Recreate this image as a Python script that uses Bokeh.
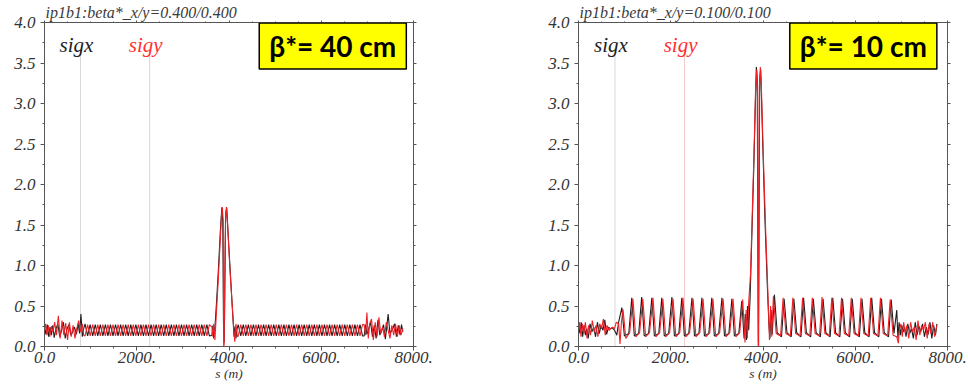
from bokeh.plotting import figure
from bokeh.layouts import row
from bokeh.models import Label, LinearAxis, SingleIntervalTicker, Range1d, PrintfTickFormatter
from bokeh.embed import file_html
from bokeh.resources import INLINE

# ---------------- data ----------------
TITLES = ["ip1b1:beta*_x/y=0.400/0.400", "ip1b1:beta*_x/y=0.100/0.100"]
BETA_TEXT = ["β*= 40 cm", "β*= 10 cm"]
SERIES = ["sigx", "sigy"]
X_TICKS = [0, 2000, 4000, 6000, 8000]
X_TICK_LABELS = ["0.0", "2000.", "4000.", "6000.", "8000."]
X_LABEL = "s (m)"
MARKER_S = [[780, 2280], [790, 2300]]
MARKER_TOP = 3.6
LEGEND_Y = 3.72
BOX_S = [6250, 6175]
BOX_Y = 3.71

# ---- panel 1 : beta* = 40 cm ----
P1_BLACK_IR_L = [(0, 0.25), (30, 0.15), (60, 0.27), (90, 0.12), (120, 0.24), (150, 0.14), (180, 0.26),
                 (210, 0.11), (250, 0.22), (290, 0.28), (330, 0.12), (370, 0.20), (410, 0.30), (450, 0.10),
                 (490, 0.22), (530, 0.27), (570, 0.14), (610, 0.18), (650, 0.24), (690, 0.15), (730, 0.28),
                 (760, 0.16), (790, 0.40), (820, 0.12), (850, 0.22)]
P1_RED_IR_L = [(0, 0.22), (25, 0.28), (55, 0.14), (85, 0.26), (115, 0.12), (150, 0.25), (185, 0.18),
               (220, 0.30), (260, 0.14), (300, 0.38), (340, 0.10), (380, 0.32), (420, 0.14), (460, 0.29),
               (500, 0.08), (540, 0.30), (580, 0.12), (620, 0.26), (660, 0.10), (700, 0.22), (740, 0.32),
               (780, 0.18), (820, 0.28), (850, 0.14)]
P1_ARC1_S = [880, 935, 990, 1045, 1100, 1155, 1210, 1265, 1320, 1375,
             1430, 1485, 1540, 1595, 1650, 1705, 1760, 1815, 1870, 1925,
             1980, 2035, 2090, 2145, 2200, 2255, 2310, 2365, 2420, 2475,
             2530, 2585, 2640, 2695, 2750, 2805, 2860, 2915, 2970, 3025,
             3080, 3135, 3190, 3245, 3300, 3355, 3410, 3465, 3520, 3575]
P1_ARC1_BLACK = [0.28, 0.13, 0.27, 0.13, 0.27, 0.13, 0.27, 0.13, 0.27, 0.13,
                 0.27, 0.13, 0.27, 0.13, 0.27, 0.13, 0.27, 0.13, 0.27, 0.13,
                 0.27, 0.13, 0.27, 0.13, 0.27, 0.13, 0.27, 0.13, 0.27, 0.13,
                 0.27, 0.13, 0.27, 0.13, 0.27, 0.13, 0.27, 0.13, 0.27, 0.13,
                 0.27, 0.13, 0.27, 0.13, 0.27, 0.13, 0.27, 0.13, 0.27, 0.13]
P1_ARC1_RED = [0.13, 0.27, 0.13, 0.27, 0.13, 0.27, 0.13, 0.27, 0.13, 0.27,
               0.13, 0.27, 0.13, 0.27, 0.13, 0.27, 0.13, 0.27, 0.13, 0.27,
               0.13, 0.27, 0.13, 0.27, 0.13, 0.27, 0.13, 0.27, 0.13, 0.27,
               0.13, 0.27, 0.13, 0.27, 0.13, 0.27, 0.13, 0.27, 0.13, 0.27,
               0.13, 0.27, 0.13, 0.27, 0.13, 0.27, 0.13, 0.27, 0.13, 0.27]
P1_BLACK_IR1 = [(3630, 0.14), (3650, 0.26), (3670, 0.10), (3700, 0.28), (3730, 0.55), (3770, 0.95),
                (3810, 1.40), (3845, 1.72), (3865, 1.55), (3880, 0.30), (3895, 0.05), (3905, 0.40),
                (3925, 1.60), (3950, 1.72), (3990, 1.30), (4035, 0.85), (4080, 0.40), (4110, 0.12),
                (4130, 0.25), (4150, 0.10), (4175, 0.22)]
P1_RED_IR1 = [(3630, 0.24), (3650, 0.12), (3670, 0.28), (3695, 0.08), (3725, 0.40), (3765, 0.80),
              (3805, 1.25), (3835, 1.60), (3855, 1.72), (3875, 1.55), (3885, 0.00), (3895, 0.02),
              (3910, 1.00), (3930, 1.65), (3945, 1.72), (3970, 1.50), (4015, 1.00), (4065, 0.55),
              (4105, 0.20), (4125, 0.06), (4150, 0.28), (4180, 0.12)]
P1_ARC2_S = [4200, 4255, 4310, 4365, 4420, 4475, 4530, 4585, 4640, 4695,
             4750, 4805, 4860, 4915, 4970, 5025, 5080, 5135, 5190, 5245,
             5300, 5355, 5410, 5465, 5520, 5575, 5630, 5685, 5740, 5795,
             5850, 5905, 5960, 6015, 6070, 6125, 6180, 6235, 6290, 6345,
             6400, 6455, 6510, 6565, 6620, 6675, 6730, 6785, 6840, 6895]
P1_ARC2_BLACK = [0.27, 0.13, 0.27, 0.13, 0.27, 0.13, 0.27, 0.13, 0.27, 0.13,
                 0.27, 0.13, 0.27, 0.13, 0.27, 0.13, 0.27, 0.13, 0.27, 0.13,
                 0.27, 0.13, 0.27, 0.13, 0.27, 0.13, 0.27, 0.13, 0.27, 0.13,
                 0.27, 0.13, 0.27, 0.13, 0.27, 0.13, 0.27, 0.13, 0.27, 0.13,
                 0.27, 0.13, 0.27, 0.13, 0.27, 0.13, 0.27, 0.13, 0.27, 0.13]
P1_ARC2_RED = [0.13, 0.27, 0.13, 0.27, 0.13, 0.27, 0.13, 0.27, 0.13, 0.27,
               0.13, 0.27, 0.13, 0.27, 0.13, 0.27, 0.13, 0.27, 0.13, 0.27,
               0.13, 0.27, 0.13, 0.27, 0.13, 0.27, 0.13, 0.27, 0.13, 0.27,
               0.13, 0.27, 0.13, 0.27, 0.13, 0.27, 0.13, 0.27, 0.13, 0.27,
               0.13, 0.27, 0.13, 0.27, 0.13, 0.27, 0.13, 0.27, 0.13, 0.27]
P1_BLACK_IR_R = [(6930, 0.13), (6960, 0.27), (6990, 0.15), (7030, 0.22), (7070, 0.30), (7110, 0.12),
                 (7150, 0.26), (7190, 0.10), (7230, 0.33), (7270, 0.14), (7310, 0.20), (7350, 0.27),
                 (7390, 0.09), (7420, 0.24), (7450, 0.40), (7490, 0.16), (7550, 0.22), (7590, 0.28),
                 (7630, 0.12), (7670, 0.26), (7710, 0.14), (7740, 0.27), (7770, 0.18)]
P1_RED_IR_R = [(6930, 0.27), (6960, 0.14), (6990, 0.42), (7020, 0.10), (7050, 0.28), (7090, 0.34),
               (7130, 0.08), (7170, 0.30), (7210, 0.12), (7250, 0.36), (7290, 0.16), (7330, 0.24),
               (7370, 0.12), (7410, 0.30), (7450, 0.20), (7490, 0.10), (7530, 0.26), (7570, 0.14),
               (7610, 0.28), (7650, 0.12), (7690, 0.26), (7730, 0.14), (7770, 0.22)]

# ---- panel 2 : beta* = 10 cm ----
P2_BLACK_IR_L = [(0, 0.28), (30, 0.16), (60, 0.30), (90, 0.12), (120, 0.26), (150, 0.14), (180, 0.22),
                 (210, 0.10), (250, 0.28), (290, 0.18), (330, 0.24), (370, 0.12), (410, 0.30), (450, 0.16),
                 (490, 0.26), (530, 0.20), (570, 0.33), (610, 0.15), (650, 0.24), (690, 0.22), (730, 0.23),
                 (770, 0.21), (800, 0.18), (830, 0.14), (870, 0.30)]
P2_RED_IR_L = [(0, 0.20), (25, 0.30), (55, 0.12), (85, 0.28), (115, 0.16), (150, 0.30), (185, 0.10),
               (220, 0.26), (260, 0.14), (300, 0.32), (340, 0.18), (380, 0.26), (420, 0.12), (460, 0.28),
               (500, 0.22), (540, 0.34), (580, 0.14), (620, 0.26), (660, 0.20), (700, 0.22), (740, 0.24),
               (780, 0.22), (820, 0.30), (870, 0.28), (900, 0.03), (930, 0.30)]
P2_BLACK_ARC1 = [(940, 0.48), (995, 0.13), (1090, 0.16), (1155, 0.60), (1210, 0.13), (1305, 0.16),
                 (1370, 0.61), (1425, 0.13), (1520, 0.16), (1590, 0.60), (1645, 0.13), (1740, 0.16),
                 (1805, 0.60), (1860, 0.13), (1955, 0.16), (2025, 0.61), (2080, 0.13), (2175, 0.16),
                 (2240, 0.60), (2295, 0.13), (2390, 0.16), (2460, 0.60), (2515, 0.13), (2610, 0.16),
                 (2675, 0.60), (2730, 0.13), (2825, 0.16), (2890, 0.60), (2945, 0.13), (3040, 0.16),
                 (3110, 0.60), (3165, 0.13), (3260, 0.16), (3325, 0.59), (3380, 0.13), (3475, 0.16),
                 (3540, 0.56), (3590, 0.10)]
P2_RED_ARC1 = [(965, 0.46), (1025, 0.10), (1110, 0.17), (1180, 0.59), (1240, 0.12), (1325, 0.17),
               (1395, 0.59), (1455, 0.12), (1540, 0.17), (1615, 0.60), (1675, 0.12), (1760, 0.17),
               (1830, 0.59), (1890, 0.12), (1975, 0.17), (2050, 0.59), (2110, 0.12), (2195, 0.17),
               (2265, 0.60), (2325, 0.12), (2410, 0.17), (2485, 0.59), (2545, 0.12), (2630, 0.17),
               (2700, 0.59), (2760, 0.12), (2845, 0.17), (2915, 0.59), (2975, 0.12), (3060, 0.17),
               (3135, 0.59), (3195, 0.12), (3280, 0.17), (3350, 0.59), (3410, 0.12), (3495, 0.17),
               (3560, 0.58), (3610, 0.05)]
P2_BLACK_IR1 = [(3615, 0.40), (3640, 0.08), (3665, 0.50), (3690, 0.20), (3720, 0.60), (3760, 1.40),
                (3800, 2.20), (3830, 2.90), (3855, 3.45), (3875, 3.30), (3890, 1.00), (3900, 0.05),
                (3912, 1.20), (3928, 3.30), (3950, 3.42), (3990, 2.60), (4040, 1.60), (4090, 0.80),
                (4130, 0.25), (4150, 0.10), (4175, 0.45), (4200, 0.15)]
P2_RED_IR1 = [(3635, 0.45), (3660, 0.10), (3690, 0.55), (3730, 0.90), (3770, 1.70), (3810, 2.50),
              (3840, 3.20), (3865, 3.42), (3882, 3.10), (3896, 0.00), (3906, 0.00), (3920, 3.20),
              (3942, 3.45), (3965, 3.20), (4010, 2.30), (4060, 1.40), (4110, 0.60), (4140, 0.08),
              (4165, 0.50), (4190, 0.12)]
P2_BLACK_ARC2 = [(4247, 0.64), (4308, 0.17), (4401, 0.12), (4458, 0.59), (4519, 0.17), (4612, 0.12),
                 (4669, 0.59), (4730, 0.17), (4823, 0.12), (4880, 0.60), (4941, 0.17), (5034, 0.12),
                 (5091, 0.59), (5152, 0.17), (5245, 0.12), (5302, 0.59), (5363, 0.17), (5456, 0.12),
                 (5513, 0.60), (5574, 0.17), (5667, 0.12), (5724, 0.59), (5785, 0.17), (5878, 0.12),
                 (5935, 0.59), (5996, 0.17), (6089, 0.12), (6146, 0.59), (6207, 0.17), (6300, 0.12),
                 (6357, 0.60), (6418, 0.17), (6511, 0.12), (6568, 0.59), (6629, 0.17), (6722, 0.12),
                 (6779, 0.58), (6840, 0.16), (6900, 0.45), (6925, 0.10)]
P2_RED_ARC2 = [(4225, 0.62), (4286, 0.16), (4381, 0.13), (4436, 0.60), (4497, 0.16), (4592, 0.13),
               (4647, 0.60), (4708, 0.16), (4803, 0.13), (4858, 0.60), (4919, 0.16), (5014, 0.13),
               (5069, 0.60), (5130, 0.16), (5225, 0.13), (5280, 0.61), (5341, 0.16), (5436, 0.13),
               (5491, 0.60), (5552, 0.16), (5647, 0.13), (5702, 0.60), (5763, 0.16), (5858, 0.13),
               (5913, 0.60), (5974, 0.16), (6069, 0.13), (6124, 0.60), (6185, 0.16), (6280, 0.13),
               (6335, 0.60), (6396, 0.16), (6491, 0.13), (6546, 0.60), (6607, 0.16), (6702, 0.13),
               (6757, 0.58), (6820, 0.14), (6900, 0.12), (6935, 0.04)]
P2_BLACK_IR_R = [(6950, 0.30), (6980, 0.14), (7010, 0.26), (7040, 0.18), (7070, 0.24), (7100, 0.12),
                 (7140, 0.28), (7180, 0.16), (7220, 0.22), (7260, 0.10), (7300, 0.30), (7340, 0.14),
                 (7380, 0.25), (7420, 0.18), (7460, 0.28), (7500, 0.12), (7540, 0.24), (7580, 0.15),
                 (7620, 0.30), (7660, 0.10), (7700, 0.26), (7740, 0.14), (7770, 0.28)]
P2_RED_IR_R = [(6960, 0.22), (6990, 0.28), (7020, 0.12), (7050, 0.30), (7085, 0.16), (7120, 0.26),
               (7160, 0.10), (7200, 0.30), (7240, 0.18), (7280, 0.24), (7320, 0.08), (7360, 0.32),
               (7400, 0.14), (7440, 0.26), (7480, 0.20), (7520, 0.30), (7560, 0.10), (7600, 0.28),
               (7640, 0.16), (7680, 0.30), (7720, 0.12), (7770, 0.26)]

# ---------------- assemble ----------------
def pts_xy(*segments):
    xs, ys = [], []
    for seg in segments:
        xs += [p[0] for p in seg]
        ys += [p[1] for p in seg]
    return xs, ys

def pairs(s, y):
    return list(zip(s, y))

p1_black = pts_xy(P1_BLACK_IR_L, pairs(P1_ARC1_S, P1_ARC1_BLACK), P1_BLACK_IR1,
                  pairs(P1_ARC2_S, P1_ARC2_BLACK), P1_BLACK_IR_R)
p1_red = pts_xy(P1_RED_IR_L, pairs(P1_ARC1_S, P1_ARC1_RED), P1_RED_IR1,
                pairs(P1_ARC2_S, P1_ARC2_RED), P1_RED_IR_R)
p2_black = pts_xy(P2_BLACK_IR_L, P2_BLACK_ARC1, P2_BLACK_IR1, P2_BLACK_ARC2, P2_BLACK_IR_R)
p2_red = pts_xy(P2_RED_IR_L, P2_RED_ARC1, P2_RED_IR1, P2_RED_ARC2, P2_RED_IR_R)

BLACK = "#1e1e1e"
RED = "#f02026"
AXIS = "#555555"
SERIF = "Liberation Serif"


def mirror_axis(interval, minor, out):
    return LinearAxis(ticker=SingleIntervalTicker(interval=interval, num_minor_ticks=minor),
                      major_label_text_font_size="1px", major_label_text_color=None,
                      major_label_standoff=0,
                      major_tick_out=out, major_tick_in=0, minor_tick_out=out - 1, minor_tick_in=0,
                      axis_line_color=AXIS, major_tick_line_color=AXIS, minor_tick_line_color=AXIS)


def panel(idx, black, red, border_left, border_right):
    p = figure(frame_width=369, frame_height=324,
               min_border_left=border_left, min_border_right=border_right,
               min_border_top=22, min_border_bottom=42,
               x_range=Range1d(0, 8000), y_range=Range1d(0, 4),
               output_backend="svg", toolbar_location=None, tools="",
               background_fill_color="white", border_fill_color="white")
    p.grid.visible = False
    p.outline_line_color = AXIS
    p.outline_line_width = 1

    p.title.text = TITLES[idx]
    p.title.text_font = SERIF
    p.title.text_font_style = "italic"
    p.title.text_font_size = "16px"
    p.title.text_color = "#3a3a3a"
    p.title.align = "left"
    p.title.standoff = 0
    p.title.offset = 1

    p.xaxis.ticker = SingleIntervalTicker(interval=2000, num_minor_ticks=4)
    p.xaxis.major_label_overrides = {t: l for t, l in zip(X_TICKS, X_TICK_LABELS)}
    p.yaxis.ticker = SingleIntervalTicker(interval=0.5, num_minor_ticks=2)
    p.yaxis.formatter = PrintfTickFormatter(format="%.1f")
    p.xaxis.axis_label = X_LABEL
    p.xaxis.axis_label_text_font = SERIF
    p.xaxis.axis_label_text_font_style = "italic"
    p.xaxis.axis_label_text_font_size = "13.5px"
    p.xaxis.axis_label_text_color = "#333333"
    p.xaxis.axis_label_standoff = 0
    for ax in (p.xaxis[0], p.yaxis[0]):
        ax.major_label_text_font = SERIF
        ax.major_label_text_font_style = "italic"
        ax.major_label_text_font_size = "17px"
        ax.major_label_text_color = "#333333"
        ax.axis_line_color = AXIS
        ax.major_tick_line_color = AXIS
        ax.minor_tick_line_color = AXIS
        ax.major_tick_out = 4
        ax.major_tick_in = 0
        ax.minor_tick_out = 2
        ax.minor_tick_in = 0
    p.xaxis.major_label_standoff = 1
    p.yaxis.major_label_standoff = 5

    p.add_layout(mirror_axis(2000, 4, 2), "above")
    p.add_layout(mirror_axis(0.5, 2, 3), "right")

    # faint legend marker lines
    ms = MARKER_S[idx]
    p.segment(x0=ms, y0=[0, 0], x1=ms, y1=[MARKER_TOP, MARKER_TOP],
              line_color=["#d8d8d8", "#f6c8c8"], line_width=1)

    p.line(black[0], black[1], line_color=BLACK, line_width=1.1)
    p.line(red[0], red[1], line_color=RED, line_width=1.1)

    # legend texts
    for k, (name, col) in enumerate(zip(SERIES, ["#222222", "#ff3030"])):
        p.add_layout(Label(x=ms[k], y=LEGEND_Y, text=name, text_font=SERIF, text_font_style="italic",
                           text_font_size="21px", text_color=col, text_align="center",
                           text_baseline="middle", x_offset=-4))
    # beta* box
    p.add_layout(Label(x=BOX_S[idx], y=BOX_Y, text=BETA_TEXT[idx], text_font="Lato",
                       text_font_style="bold", text_font_size="28px", text_color="black",
                       text_align="center", text_baseline="middle",
                       background_fill_color="#ffff00", border_line_color="black",
                       border_line_width=1.5, padding=(10, 6)))
    return p


p1 = panel(0, p1_black, p1_red, 44, 67)
p2 = panel(1, p2_black, p2_red, 98, 20)
layout = row(p1, p2)

open("out.html", "w").write(file_html(layout, INLINE, "beta star"))
